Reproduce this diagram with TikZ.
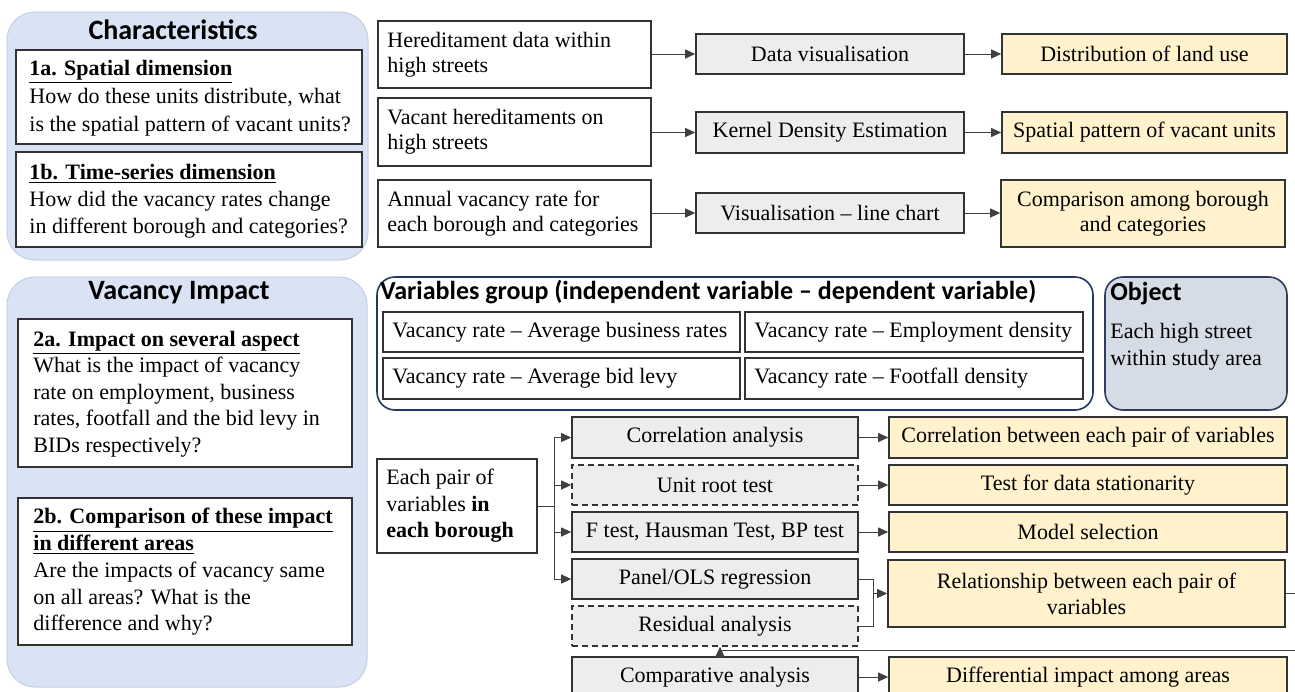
\documentclass[tikz,border=0pt]{standalone}
\usepackage{fontspec}
\setmainfont{Liberation Serif}
\newfontfamily\calib{Carlito}
\usetikzlibrary{arrows.meta}
\definecolor{panelfill}{HTML}{DAE3F3}
\definecolor{paneldraw}{HTML}{C3CEE3}
\definecolor{gfill}{HTML}{EDEDED}
\definecolor{yfill}{HTML}{FFF2CC}
\definecolor{ofill}{HTML}{D6DCE5}
\definecolor{navy}{HTML}{1F3864}
\definecolor{odraw}{HTML}{2E3D5C}
\definecolor{bd}{HTML}{333333}
\definecolor{lncol}{HTML}{404040}
\tikzset{
  every node/.style={font=\fontsize{11}{13.5}\selectfont},
  box/.style={draw=bd, fill=white, line width=0.8pt, inner sep=0pt},
  gbox/.style={box, fill=gfill},
  ybox/.style={box, fill=yfill},
  dbox/.style={gbox, dash pattern=on 3pt off 2pt},
  panelbox/.style={fill=panelfill, draw=paneldraw, line width=0.5pt, rounded corners=14pt, inner sep=0pt},
  txt/.style={anchor=west, align=left, inner sep=0pt},
  head/.style={inner sep=0pt, font=\calib\bfseries\fontsize{14}{16}\selectfont},
  ln/.style={draw=lncol, line width=0.5pt},
  arr/.style={ln, -{Triangle[length=5pt,width=4.5pt]}},
}
% style, x1, y1, x2, y2, name, text  (pixel coordinates)
\newcommand\mkbox[7]{\node[#1, minimum width={(#4-#2)*0.5pt}, minimum height={(#5-#3)*0.5pt}] (#6) at ({(#2+#4)/2},{(#3+#5)/2}) {#7};}
\begin{document}
\begin{tikzpicture}[x=0.5pt,y=-0.5pt]
\useasboundingbox (0,0) rectangle (1295,691);
\clip (0,0) rectangle (1295,691);
\fill[white] (0,0) rectangle (1295,691);

% ---------- left panels ----------
\mkbox{panelbox}{7}{12}{368}{260}{charp}{}
\node[head] (chart) at (173,30) {Characteristics};
\mkbox{box}{16}{50}{362}{144}{b1a}{}
\node[txt, font=\fontsize{11}{14}\selectfont] (t1a) at (29,98) {\underline{\textbf{1a. Spatial dimension}}\\How do these units distribute, what\\is the spatial pattern of vacant units?};
\mkbox{box}{16}{152}{362}{247}{b1b}{}
\node[txt, font=\fontsize{11}{13.5}\selectfont] (t1b) at (29,201) {\underline{\textbf{1b. Time-series dimension}}\\How did the vacancy rates change\\in different borough and categories?};

\mkbox{panelbox}{7}{277}{367}{687}{impp}{}
\node[head] (impt) at (179,293) {Vacancy Impact};
\mkbox{box}{18}{319}{352}{467}{b2a}{}
\node[txt, font=\fontsize{11}{13.25}\selectfont] (t2a) at (33,394) {\underline{\textbf{2a. Impact on several aspect}}\\What is the impact of vacancy\\rate on employment, business\\rates, footfall and the bid levy in\\BIDs respectively?};
\mkbox{box}{18}{498}{352}{645}{b2b}{}
\node[txt, font=\fontsize{11}{13.4}\selectfont] (t2b) at (33,572) {\underline{\textbf{2b. Comparison of these impact}}\\\underline{\textbf{in different areas}}\\Are the impacts of vacancy same\\on all areas? What is the\\difference and why?};

% ---------- top flow ----------
\mkbox{box}{378}{21}{651}{88}{h1}{}
\node[txt, font=\fontsize{11}{12.5}\selectfont] (th1) at (387,55) {Hereditament data within\\high streets};
\mkbox{box}{378}{98}{651}{166}{h2}{}
\node[txt, font=\fontsize{11}{12.5}\selectfont] (th2) at (387,132) {Vacant hereditaments on\\high streets};
\mkbox{box}{378}{180}{651}{247}{h3}{}
\node[txt, font=\fontsize{11}{12.5}\selectfont] (th3) at (387,213.5) {Annual vacancy rate for\\each borough and categories};

\mkbox{gbox}{696}{34}{964}{74}{g1}{Data visualisation}
\mkbox{gbox}{696}{112}{964}{153}{g2}{Kernel Density Estimation}
\mkbox{gbox}{696}{193}{964}{233}{g3}{Visualisation – line chart}

\mkbox{ybox}{1002}{34}{1287}{74}{y1}{Distribution of land use}
\mkbox{ybox}{1002}{112}{1287}{153}{y2}{Spatial pattern of vacant units}
\mkbox{ybox, align=center, font=\fontsize{11}{12.5}\selectfont}{1001}{180}{1285}{247}{y3}{Comparison among borough\\and categories}

\draw[arr] (h1.east |- g1) -- (g1.west);
\draw[arr] (h2.east |- g2) -- (g2.west);
\draw[arr] (h3.east |- g3) -- (g3.west);
\draw[arr] (g1.east) -- (y1.west |- g1);
\draw[arr] (g2.east) -- (y2.west |- g2);
\draw[arr] (g3.east) -- (y3.west |- g3);

% ---------- variables group ----------
\mkbox{draw=navy, line width=0.8pt, fill=white, rounded corners=9pt, inner sep=0pt}{377}{277}{1093}{410}{vg}{}
\node[head, anchor=west, font=\calib\bfseries\fontsize{13}{15}\selectfont] (vgt) at (380,292) {Variables group (independent variable – dependent variable)};
\mkbox{box}{383}{312}{740}{352}{v1}{}
\node[txt] (tv1) at (392,332) {Vacancy rate – Average business rates};
\mkbox{box}{745}{312}{1083}{352}{v2}{}
\node[txt] (tv2) at (754,332) {Vacancy rate – Employment density};
\mkbox{box}{383}{358}{740}{399}{v3}{}
\node[txt] (tv3) at (392,378.5) {Vacancy rate – Average bid levy};
\mkbox{box}{745}{358}{1083}{399}{v4}{}
\node[txt] (tv4) at (754,378.5) {Vacancy rate – Footfall density};

\mkbox{draw=odraw, line width=0.8pt, fill=ofill, rounded corners=9pt, inner sep=0pt}{1105}{277}{1287}{410}{obj}{}
\node[head, anchor=west, font=\calib\bfseries\fontsize{13}{15}\selectfont] (objt) at (1110,294) {Object};
\node[txt] (tobj) at (1110,346.5) {Each high street\\within study area};

% ---------- lower flow ----------
\mkbox{box}{377}{459}{537}{553}{ep}{}
\node[txt, font=\fontsize{11}{13.25}\selectfont] (tep) at (386,506) {Each pair of\\variables \textbf{in}\\\textbf{each borough}};
\coordinate (J) at (554,506);

\mkbox{gbox}{572}{417}{858}{458}{c1}{Correlation analysis}
\mkbox{dbox}{572}{465}{858}{505}{c2}{Unit root test}
\mkbox{gbox}{572}{512}{858}{552}{c3}{F test, Hausman Test, BP test}
\mkbox{gbox}{572}{559}{858}{599}{c4}{Panel/OLS regression}
\mkbox{dbox}{572}{606}{858}{646}{c5}{Residual analysis}
\mkbox{gbox}{572}{657}{858}{697}{c6}{Comparative analysis}

\mkbox{ybox}{889}{417}{1287}{458}{r1}{Correlation between each pair of variables}
\mkbox{ybox}{889}{465}{1287}{505}{r2}{Test for data stationarity}
\mkbox{ybox}{889}{512}{1287}{552}{r3}{Model selection}
\mkbox{ybox, align=center, font=\fontsize{11}{13}\selectfont}{888}{560}{1285}{627}{r4}{Relationship between each pair of\\variables}
\mkbox{ybox}{889}{657}{1287}{697}{r5}{Differential impact among areas}

\draw[ln] (ep.east) -- (J);
\draw[arr] (J) |- (c1.west);
\draw[arr] (J) |- (c2.west);
\draw[arr] (J) |- (c3.west);
\draw[arr] (J) |- (c4.west);

\draw[arr] (c1.east) -- (r1.west);
\draw[arr] (c2.east) -- (r2.west);
\draw[arr] (c3.east) -- (r3.west);
\draw[arr] (c6.east) -- (r5.west |- c6);

\coordinate (K) at (873,593.5);
\draw[ln] (c4.east) -| (K);
\draw[ln] (c5.east) -| (K);
\draw[arr] (K) -- (r4.west);

\coordinate (E1) at (1300,593.5);
\draw[ln] (r4.east) -- (E1);
\coordinate (E2) at (1300,650);
\draw[arr] (E2) -| ([xshift=2.5pt]c5.south);
\end{tikzpicture}
\end{document}
